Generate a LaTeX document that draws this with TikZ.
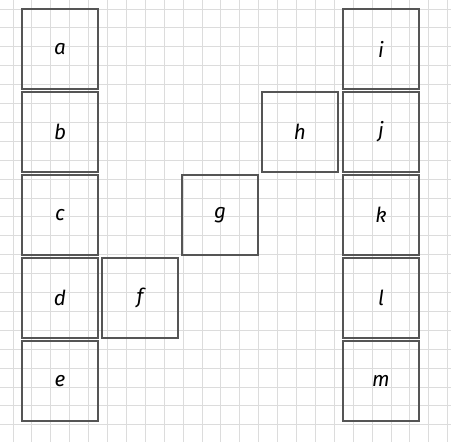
\documentclass[tikz,border=0pt]{standalone}
\usepackage{fontspec}
\setsansfont{Fira Sans}
\usetikzlibrary{calc}

\definecolor{gridgray}{HTML}{DCDCDC}
\definecolor{boxgray}{HTML}{555555}

\begin{document}
\begin{tikzpicture}[x=0.75pt,y=-0.75pt,
  cell/.style={draw=boxgray,line width=1pt,minimum width=57pt,minimum height=60pt,
    inner sep=0pt,font=\sffamily\itshape\fontsize{15.5}{18}\selectfont,text=black}]
  % fondo y cuadricula
  \useasboundingbox (0,0) rectangle (451,442);
  \fill[white] (0,0) rectangle (451,442);
  \foreach \k in {0,...,23}
    \draw[gridgray,line width=0.7pt] (13+18.9*\k,0) -- (13+18.9*\k,442);
  \foreach \k in {0,...,22}
    \draw[gridgray,line width=0.7pt] (0,9+18.9*\k) -- (451,9+18.9*\k);
  % columna izquierda
  \node[cell] (a) at (60,49) {a};
  \node[cell] (b) at (60,132) {b};
  \node[cell] (c) at (60,215) {c};
  \node[cell] (d) at (60,298) {d};
  \node[cell] (e) at (60,381) {e};
  % diagonal
  \node[cell] (f) at (140,298) {f};
  \node[cell] (g) at (220,215) {g};
  \node[cell] (h) at (300,132) {h};
  % columna derecha
  \node[cell] (i) at (381,49) {i};
  \node[cell] (j) at (381,132) {j};
  \node[cell] (k) at (381,215) {k};
  \node[cell] (l) at (381,298) {l};
  \node[cell] (m) at (381,381) {m};
\end{tikzpicture}
\end{document}
